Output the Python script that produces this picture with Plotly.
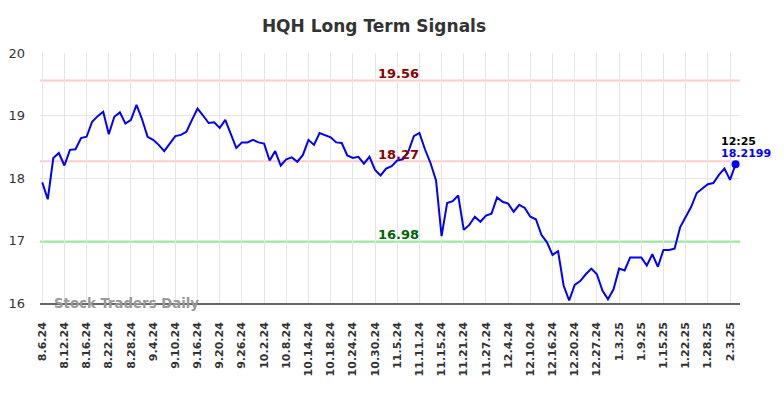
import pandas as pd
import plotly.graph_objects as go

title = "HQH Long Term Signals"
holidays = ["2024-09-02", "2024-11-28", "2024-12-25", "2025-01-01", "2025-01-20"]
dates = [d for d in pd.bdate_range("2024-08-06", "2025-02-04") if d.strftime("%Y-%m-%d") not in holidays]
labels = [f"{d.month}.{d.day}.{d.year % 100}" for d in dates]

prices = [
    17.93, 17.66, 18.32, 18.40, 18.20, 18.45, 18.46, 18.64, 18.66, 18.90,
    18.99, 19.06, 18.70, 18.98, 19.05, 18.87, 18.93, 19.17, 18.94, 18.66,
    18.61, 18.53, 18.43, 18.55, 18.67, 18.69, 18.74, 18.93, 19.11, 19.00,
    18.88, 18.89, 18.80, 18.93, 18.71, 18.48, 18.57, 18.57, 18.61, 18.57,
    18.55, 18.28, 18.43, 18.20, 18.30, 18.33, 18.26, 18.37, 18.61, 18.53,
    18.72, 18.69, 18.65, 18.57, 18.56, 18.36, 18.32, 18.34, 18.23, 18.34,
    18.13, 18.04, 18.15, 18.19, 18.28, 18.30, 18.42, 18.67, 18.72, 18.46,
    18.24, 17.96, 17.07, 17.60, 17.63, 17.72, 17.17, 17.25, 17.38, 17.30,
    17.40, 17.43, 17.69, 17.62, 17.59, 17.46, 17.57, 17.52, 17.38, 17.34,
    17.09, 16.97, 16.77, 16.83, 16.28, 16.04, 16.29, 16.35, 16.46, 16.55,
    16.46, 16.20, 16.06, 16.22, 16.55, 16.52, 16.73, 16.73, 16.73, 16.60,
    16.78, 16.58, 16.85, 16.85, 16.87, 17.21, 17.37, 17.54, 17.76, 17.83,
    17.90, 17.92, 18.05, 18.15, 17.97, 18.2199,
]
labels = labels[:len(prices)]

resistance_hi = 19.56
resistance_mid = 18.27
support = 16.98
last_time = "12:25"
last_price = prices[-1]

tick_labels = labels[::4]
y_ticks = [16, 17, 18, 19, 20]

fig = go.Figure()
fig.add_trace(go.Scatter(x=labels, y=prices, mode="lines",
                         line=dict(color="#0000ff", width=2), hoverinfo="skip"))
fig.add_trace(go.Scatter(x=[labels[-1]], y=[last_price], mode="markers",
                         marker=dict(color="#0000ff", size=8), hoverinfo="skip"))

for val, col in [(resistance_hi, "#ffcccc"), (resistance_mid, "#ffcccc"), (support, "#90ee90")]:
    fig.add_shape(type="line", xref="paper", x0=0, x1=1, yref="y", y0=val, y1=val,
                  line=dict(color=col, width=2), layer="below")

for val, col in [(resistance_hi, "#8b0000"), (resistance_mid, "#8b0000"), (support, "#006400")]:
    fig.add_annotation(xref="paper", x=0.512, y=val, yref="y", text=f"<b>{val:.2f}</b>",
                       showarrow=False, yanchor="middle", yshift=7,
                       font=dict(color=col, size=13, family="DejaVu Sans"))

fig.add_annotation(x=labels[-1], y=last_price, text=f"<b>{last_time}</b>", showarrow=False,
                   xanchor="left", xshift=-17, yanchor="bottom", yshift=14,
                   font=dict(color="#000000", size=11, family="DejaVu Sans"))
fig.add_annotation(x=labels[-1], y=last_price, text=f"<b>{last_price}</b>", showarrow=False,
                   xanchor="left", xshift=-17, yanchor="bottom", yshift=2,
                   font=dict(color="#0000ff", size=11, family="DejaVu Sans"))

fig.add_annotation(xref="paper", yref="y", x=0.017, y=16, text="<b>Stock Traders Daily</b>",
                   showarrow=False, xanchor="left", yanchor="middle",
                   font=dict(color="#999999", size=13.3, family="DejaVu Sans"))

fig.update_layout(
    width=784, height=398,
    margin=dict(l=40, r=44, t=53, b=95, autoexpand=False),
    paper_bgcolor="white", plot_bgcolor="white",
    showlegend=False,
    title=dict(text=f"<b>{title}</b>", x=0.477, xanchor="center",
               xref="container", yref="container", y=0.935, yanchor="middle",
               font=dict(size=17, color="#333333", family="DejaVu Sans")),
    xaxis=dict(type="category", range=[-0.4, len(prices) - 0.2], automargin=False,
               tickmode="array", tickvals=tick_labels, ticktext=tick_labels,
               tickangle=-90, ticklabelstandoff=13,
               tickfont=dict(size=11, color="#333333", family="DejaVu Sans", weight="bold"),
               showgrid=True, gridcolor="#e6e6e6", gridwidth=1,
               showline=True, linecolor="#666666", linewidth=1.5, ticks="", zeroline=False),
    yaxis=dict(range=[16, 20], tickvals=y_ticks, showgrid=True, gridcolor="#e6e6e6", automargin=False,
               ticklabelstandoff=14,
               tickfont=dict(size=13, color="#333333", family="DejaVu Sans"),
               zeroline=False, showline=False, ticks="", ticklen=0),
)

fig.write_html("out.html", config={"displayModeBar": False},
               post_script="document.body.style.margin='0';")
